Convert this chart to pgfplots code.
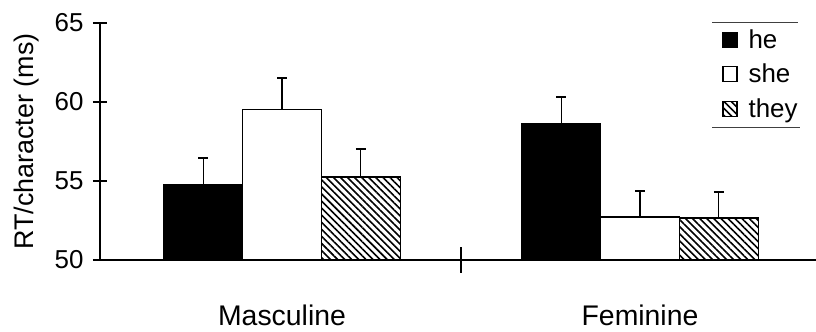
\documentclass[border=0pt]{standalone}
\usepackage{pgfplots}
\pgfplotsset{compat=1.18}
\usetikzlibrary{patterns.meta}
\usepackage{fontspec}
\setmainfont{Liberation Sans}

\pgfplotstableread{
x y e
-0.22 54.80 1.65
0.78 58.65 1.65
}\heTable
\pgfplotstableread{
x y e
0.00 59.55 1.95
1.00 52.72 1.65
}\sheTable
\pgfplotstableread{
x y e
0.22 55.25 1.77
1.22 52.66 1.65
}\theyTable

\begin{document}
\begin{tikzpicture}
\path[use as bounding box] (-100bp,-72bp) rectangle (716bp,260bp);
\begin{axis}[
  at={(0,0)}, anchor=south west,
  scale only axis, width=716bp, height=237bp,
  xmin=-0.5084, xmax=1.4916, ymin=50, ymax=65,
  clip=false,
  axis x line=bottom, axis y line=left,
  axis line style={-, line width=1.2bp},
  ytick={50,55,60,65},
  xtick=\empty,
  extra x ticks={0.5}, extra x tick labels={},
  extra x tick style={major tick length=25bp, tick align=center},
  tick align=center, major tick length=14bp,
  tick style={line width=1.1bp, black},
  /pgf/number format/assume math mode=true,
  yticklabel style={font=\fontsize{26}{30}\selectfont, xshift=-6bp},
  ylabel={RT/character (ms)},
  every axis y label/.style={at={(axis description cs:-0.0922,0.5)}, rotate=90, anchor=base, font=\fontsize{27}{30}\selectfont},
  ybar, bar width=0.22, bar shift=0pt,
  legend cell align=left,
  legend image code/.code={\draw[#1, line width=1.1bp] (0bp,-7.5bp) rectangle (14bp,7.5bp); \path (23bp,0);},
  legend style={at={(rel axis cs:0.869,0.98)}, anchor=north west, draw=none, fill=none,
    font=\fontsize{26}{30}\selectfont, row sep=10bp, inner sep=0pt},
  error bars/y dir=plus, error bars/y explicit,
  error bars/error bar style={line width=1.2bp, black},
  error bars/error mark options={line width=2bp, mark size=5bp, black, rotate=90},
]
\addplot[draw=black, line width=1.2bp, fill=black] table[x=x, y=y, y error=e] {\heTable};
\addlegendentry{he}
\addplot[draw=black, line width=1.2bp, fill=white] table[x=x, y=y, y error=e] {\sheTable};
\addlegendentry{she}
\addplot[draw=black, line width=1.2bp, pattern={Lines[angle=-45, distance=5bp, line width=1.6bp]}] table[x=x, y=y, y error=e] {\theyTable};
\addlegendentry{they}

\draw[line width=0.8bp, black!75] (rel axis cs:0.855,1.004) -- (rel axis cs:0.975,1.004);
\draw[line width=0.8bp, black!75] (rel axis cs:0.855,0.561) -- (rel axis cs:0.978,0.561);

\node[anchor=base, font=\fontsize{28.5}{32}\selectfont] at (axis cs:0,45.886) {Masculine};
\node[anchor=base, font=\fontsize{28.5}{32}\selectfont] at (axis cs:1,45.886) {Feminine};
\end{axis}
\end{tikzpicture}
\end{document}
